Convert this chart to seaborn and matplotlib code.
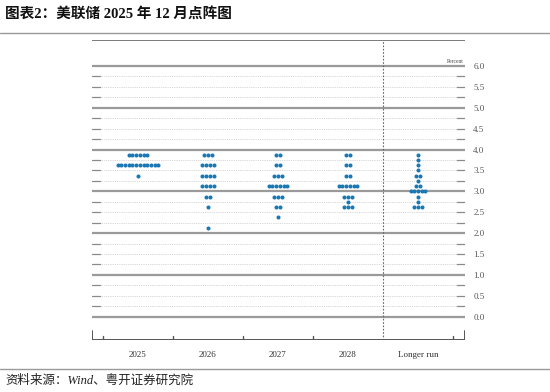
import numpy as np
import pandas as pd
import matplotlib
matplotlib.use("Agg")
import matplotlib.pyplot as plt
import seaborn as sns

# ---------------- data ----------------
categories = ["2025", "2026", "2027", "2028", "Longer run"]

rates_2025 = [3.875, 3.625, 3.375]
counts_2025 = [6, 12, 1]

rates_2026 = [3.875, 3.625, 3.375, 3.125, 2.875, 2.625, 2.125]
counts_2026 = [3, 4, 4, 4, 2, 1, 1]

rates_2027 = [3.875, 3.625, 3.375, 3.125, 2.875, 2.625, 2.375]
counts_2027 = [2, 2, 3, 6, 3, 2, 1]

rates_2028 = [3.875, 3.625, 3.375, 3.125, 2.875, 2.75, 2.625]
counts_2028 = [2, 2, 2, 6, 3, 1, 3]

rates_lr = [3.875, 3.75, 3.625, 3.5, 3.375, 3.25, 3.125, 3.0, 2.875, 2.75, 2.625]
counts_lr = [1, 1, 1, 1, 2, 1, 2, 5, 1, 1, 3]

ytick_values = [0.0, 0.5, 1.0, 1.5, 2.0, 2.5, 3.0, 3.5, 4.0, 4.5, 5.0, 5.5, 6.0]
ytick_labels = [f"{v:.1f}" for v in ytick_values]

title_text = "图表2：美联储 2025 年 12 月点阵图"
source_text = "资料来源：Wind、粤开证券研究院"

# ---------------- build dot table ----------------
series = [(rates_2025, counts_2025), (rates_2026, counts_2026),
          (rates_2027, counts_2027), (rates_2028, counts_2028),
          (rates_lr, counts_lr)]
dot_step = 0.053
rows = []
for ci, (rates, counts) in enumerate(series):
    for r, n in zip(rates, counts):
        for i in range(n):
            rows.append({"category": categories[ci],
                         "xpos": ci + (i - (n - 1) / 2) * dot_step,
                         "rate": r})
df = pd.DataFrame(rows)

# ---------------- style ----------------
sns.set_style("white")
plt.rcParams["font.family"] = ["Liberation Serif", "Noto Sans CJK SC"]

W, H = 550, 392
fig = plt.figure(figsize=(W / 100, H / 100), dpi=100)
ax_l, ax_r, ax_t, ax_b = 92, 465, 40, 340
ax = fig.add_axes([ax_l / W, 1 - ax_b / H, (ax_r - ax_l) / W, (ax_b - ax_t) / H])

sns.scatterplot(data=df, x="xpos", y="rate", color="#1a78b4", s=8.5,
                linewidth=0, ax=ax, zorder=5, legend=False)

ax.set_xlim(-0.657, 4.671)
ax.set_ylim(-0.557, 6.622)
for s in ax.spines.values():
    s.set_visible(False)

# grid lines
tick_frac = 8 / (ax_r - ax_l)
for k in range(0, 25):
    v = k * 0.25
    if k % 4 == 0:
        ax.axhline(v, color="#9a9a9a", lw=1.6, zorder=1)
    else:
        ax.axhline(v, xmin=tick_frac, xmax=1 - tick_frac, color="#c8c8c8",
                   lw=0.6, ls=(0, (1, 1.2)), zorder=1)
        ax.axhline(v, xmin=1 - tick_frac, xmax=1, color="#8a8a8a", lw=0.9, zorder=1)
        ax.axhline(v, xmin=0, xmax=tick_frac, color="#8a8a8a", lw=0.9, zorder=1)

# top and bottom frame
ax.axhline(6.622, color="#7a7a7a", lw=1.4, zorder=2)
ax.axhline(-0.557, color="#555555", lw=1.4, zorder=2)
# bottom ticks
small = 4 / (ax_b - ax_t)
big = 9 / (ax_b - ax_t)
for xb in [-0.5, 0.5, 1.5, 2.5, 4.5]:
    ax.axvline(xb, ymin=0, ymax=small, color="#555555", lw=1.0, zorder=2)
for xb in [-0.657, 4.671]:
    ax.axvline(xb, ymin=0, ymax=big, color="#555555", lw=1.4, zorder=2)
# longer-run separator
ax.axvline(3.5, color="#666666", lw=0.8, ls=(0, (1.5, 1.5)), zorder=2)

# ticks
ax.set_xticks(range(len(categories)))
ax.set_xticklabels(categories, fontsize=6.5, color="#333333")
ax.tick_params(axis="x", length=0, pad=8)
ax.yaxis.tick_right()
ax.set_yticks(ytick_values)
ax.set_yticklabels(ytick_labels, fontsize=6.5, color="#555555")
ax.tick_params(axis="y", length=0, pad=6)
ax.set_xlabel("")
ax.set_ylabel("")
ax.text(4.53, 6.04, "Percent", fontsize=4, color="#444444", ha="center", va="bottom")

# title and source
fig.text(5 / W, 1 - 14 / H, title_text, fontsize=10.5, fontweight="bold",
         color="#111111", ha="left", va="center",
         family=["Liberation Serif", "Noto Sans CJK SC"])
fig.add_artist(plt.Line2D([0, 1], [1 - 33 / H, 1 - 33 / H], color="#9a9a9a", lw=1.0))
fig.add_artist(plt.Line2D([0, 1], [1 - 369 / H, 1 - 369 / H], color="#9a9a9a", lw=1.0))
fig.text(5 / W, 1 - 381 / H, source_text, fontsize=9, style="italic",
         color="#222222", ha="left", va="center",
         family=["Liberation Serif", "Noto Sans CJK SC"])

fig.savefig("out.png", dpi=100)
